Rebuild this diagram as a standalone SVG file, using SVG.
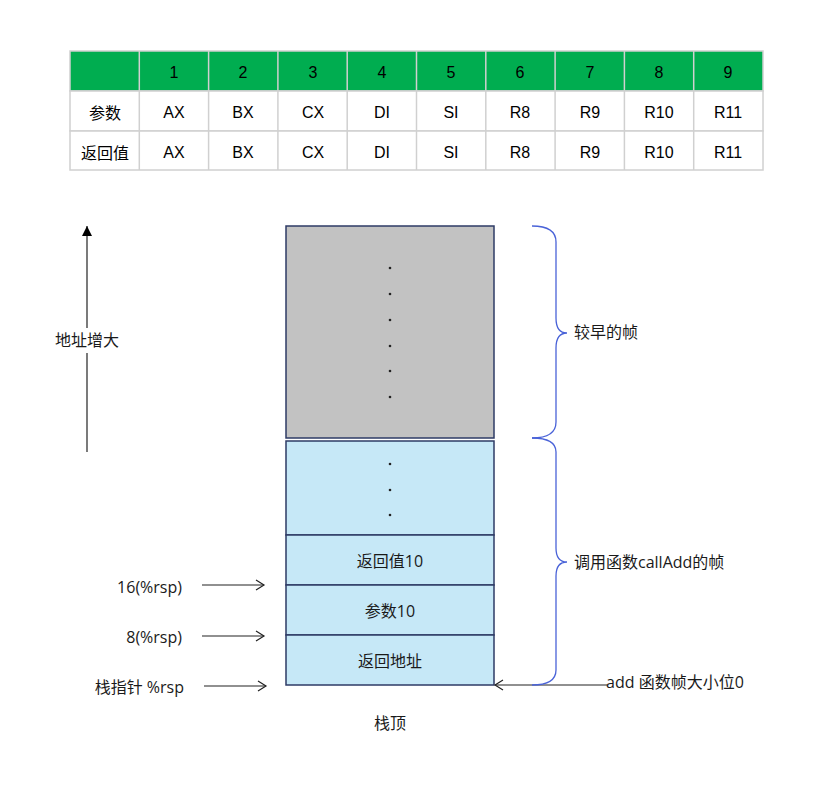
<svg xmlns="http://www.w3.org/2000/svg" width="819" height="805" viewBox="0 0 819 805">
<style>
.t{font-family:"Liberation Sans","Noto Sans CJK SC",sans-serif;font-size:16px;fill:#000;text-anchor:middle;dominant-baseline:central}
.cj{font-family:"Noto Sans CJK SC",sans-serif;font-size:16px}
.c{font-family:"Open Sans","Noto Sans CJK SC",sans-serif;font-size:16px;fill:#1a1a1a;dominant-baseline:central}
.m{text-anchor:middle}.e{text-anchor:end}
.cell{stroke:#d0d0d0;stroke-width:1.5}
.box{stroke:#2e3b66;stroke-width:1.5}
.dot{fill:#222}
.brace{fill:none;stroke:#4a63d8;stroke-width:1.3}
.ln{stroke:#222;stroke-width:1.2;fill:none}
</style>
<defs>
<marker id="open" markerWidth="12" markerHeight="12" refX="10" refY="6" orient="auto" markerUnits="userSpaceOnUse">
<path d="M2,1 L10,6 L2,11" fill="none" stroke="#222" stroke-width="1.2"/>
</marker>
<marker id="fill" markerWidth="12" markerHeight="12" refX="10" refY="6" orient="auto" markerUnits="userSpaceOnUse">
<path d="M0,1 L10,6 L0,11 Z" fill="#000"/>
</marker>
</defs>
<rect width="819" height="805" fill="#fff"/>
<g id="table">
<rect x="70" y="51" width="693" height="40" fill="#00ad50" class="cell"/>
<rect x="70" y="91" width="693" height="40" fill="#fff" class="cell"/>
<rect x="70" y="131" width="693" height="39" fill="#fff" class="cell"/>
<g class="cell">
<line x1="139.3" y1="51" x2="139.3" y2="170"/><line x1="208.6" y1="51" x2="208.6" y2="170"/><line x1="277.9" y1="51" x2="277.9" y2="170"/><line x1="347.2" y1="51" x2="347.2" y2="170"/><line x1="416.5" y1="51" x2="416.5" y2="170"/><line x1="485.8" y1="51" x2="485.8" y2="170"/><line x1="555.1" y1="51" x2="555.1" y2="170"/><line x1="624.4" y1="51" x2="624.4" y2="170"/><line x1="693.7" y1="51" x2="693.7" y2="170"/>
</g>
<g class="t">
<text x="174" y="72">1</text><text x="243" y="72">2</text><text x="313" y="72">3</text><text x="382" y="72">4</text><text x="451" y="72">5</text><text x="520" y="72">6</text><text x="590" y="72">7</text><text x="659" y="72">8</text><text x="728" y="72">9</text>
<text x="105" y="112" class="cj">参数</text>
<text x="174" y="112">AX</text><text x="243" y="112">BX</text><text x="313" y="112">CX</text><text x="382" y="112">DI</text><text x="451" y="112">SI</text><text x="520" y="112">R8</text><text x="590" y="112">R9</text><text x="659" y="112">R10</text><text x="728" y="112">R11</text>
<text x="105" y="152" class="cj">返回值</text>
<text x="174" y="152">AX</text><text x="243" y="152">BX</text><text x="313" y="152">CX</text><text x="382" y="152">DI</text><text x="451" y="152">SI</text><text x="520" y="152">R8</text><text x="590" y="152">R9</text><text x="659" y="152">R10</text><text x="728" y="152">R11</text>
</g>
</g>
<g id="earlier-frame">
<rect x="286" y="226" width="208" height="212" fill="#c2c2c2" class="box"/>
<g class="dot"><circle cx="390" cy="268" r="1.3"/><circle cx="390" cy="294" r="1.3"/><circle cx="390" cy="320" r="1.3"/><circle cx="390" cy="346" r="1.3"/><circle cx="390" cy="371" r="1.3"/><circle cx="390" cy="397" r="1.3"/></g>
</g>
<g id="dots-cell">
<rect x="286" y="441" width="208" height="94" fill="#c6e8f7" class="box"/>
<g class="dot"><circle cx="390" cy="464" r="1.3"/><circle cx="390" cy="490" r="1.3"/><circle cx="390" cy="515" r="1.3"/></g>
</g>
<g id="ret10">
<rect x="286" y="535" width="208" height="50" fill="#c6e8f7" class="box"/>
<text x="390" y="561" class="c m">返回值10</text>
</g>
<g id="arg10">
<rect x="286" y="585" width="208" height="50" fill="#c6e8f7" class="box"/>
<text x="390" y="611" class="c m">参数10</text>
</g>
<g id="retaddr">
<rect x="286" y="635" width="208" height="50" fill="#c6e8f7" class="box"/>
<text x="390" y="661" class="c m">返回地址</text>
</g>
<g id="labels">
<text x="390" y="723" class="c m">栈顶</text>
<text x="182" y="587" class="c e">16(%rsp)</text>
<text x="182" y="637" class="c e">8(%rsp)</text>
<text x="184" y="687" class="c e">栈指针 %rsp</text>
<text x="87" y="340" class="c m">地址增大</text>
<text x="574" y="332" class="c">较早的帧</text>
<text x="574" y="562" class="c">调用函数callAdd的帧</text>
<text x="606" y="682" class="c">add 函数帧大小位0</text>
</g>
<g id="connectors">
<line x1="202" y1="585" x2="264" y2="585" class="ln" marker-end="url(#open)"/>
<line x1="202" y1="636" x2="264" y2="636" class="ln" marker-end="url(#open)"/>
<line x1="204" y1="686" x2="266" y2="686" class="ln" marker-end="url(#open)"/>
<line x1="87" y1="452" x2="87" y2="353" class="ln"/>
<line x1="87" y1="328" x2="87" y2="226" class="ln" marker-end="url(#fill)"/>
<line x1="607" y1="685" x2="495" y2="685" class="ln" marker-end="url(#open)"/>
<path class="brace" d="M532,226 Q556,226 556,242 L556,318 Q556,333 567,333 Q556,333 556,348 L556,422 Q556,438 532,438"/>
<path class="brace" d="M532,438 Q556,438 556,452 L556,548 Q556,562 567,562 Q556,562 556,576 L556,670 Q556,685 532,685"/>
</g>
</svg>
